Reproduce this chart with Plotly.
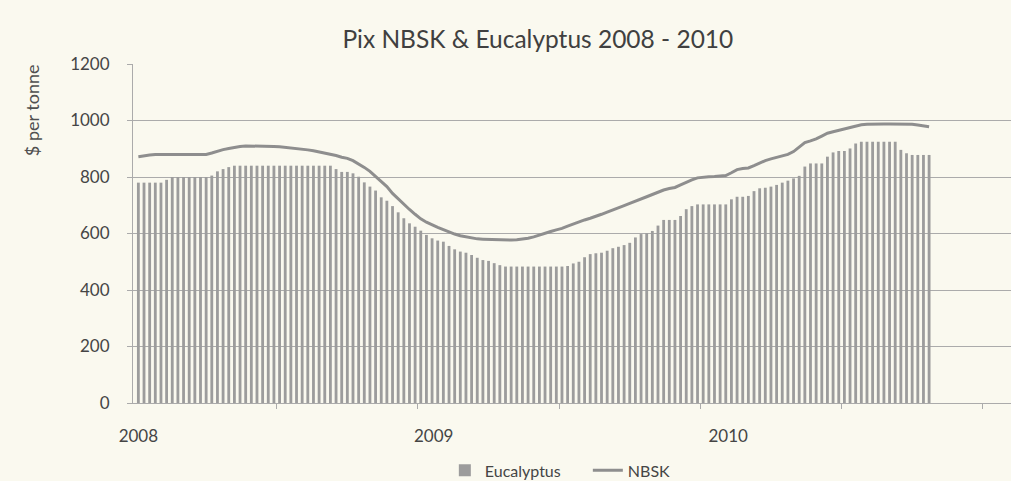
import datetime as dt
import plotly.graph_objects as go

# ---- data (weekly, starting first week of 2008) ----
start_date = dt.date(2008, 1, 1)

eucalyptus = (
    [780] * 5 + [790] + [800] * 7 + [805, 820, 828, 835] + [840] * 18 +
    [828, 818, 818, 813, 801, 781, 766, 752, 728, 716, 697, 675, 654, 636, 624,
     610, 595, 583, 575, 571, 556, 544, 536, 532, 524, 514, 506, 503, 495, 488] +
    [483] * 11 +
    [485, 494, 500, 516, 527, 530, 532, 539, 548, 553, 559, 567, 586, 598, 601,
     609, 628, 648, 648, 648, 662, 686, 697] +
    [703] * 6 +
    [721, 730, 730, 733, 750, 760, 762, 766, 772, 780, 787, 795, 804, 837] +
    [848] * 3 +
    [872, 887, 892, 892, 901, 919] +
    [925] * 7 +
    [896, 884] + [878] * 4
)

nbsk = (
    [872, 876, 878] + [880] * 10 +
    [885, 892, 897, 901, 905, 908, 910, 910, 908, 908, 910, 908, 907, 905, 904,
     901, 898, 896, 893, 889, 886, 881, 876, 870, 866, 858, 847, 834, 820, 801,
     785, 766, 742, 722, 702, 685, 668, 652, 640, 630, 622, 614, 605, 598, 592,
     588, 584, 581, 580, 579, 578, 578, 577, 577, 578, 580, 583, 588, 595, 601,
     607, 613, 618, 626, 634, 642, 648, 654, 660, 668, 676, 683, 691, 699, 707,
     714, 722, 730, 738, 746, 754, 759, 763, 772, 782, 790, 797, 800, 801, 802,
     803, 805, 815, 826, 830, 832, 840, 850, 858, 864, 869, 873, 880, 890, 905,
     922, 928, 935, 945, 955, 960, 965, 972, 977, 981, 985, 987] +
    [988] * 7 +
    [987, 984, 981, 978]
)

weeks = list(range(len(eucalyptus)))
year_labels = ["2008", "2009", "2010"]
year_pos = [(dt.date(int(y), 1, 1) - start_date).days / 7 for y in year_labels]
y_ticks = [0, 200, 400, 600, 800, 1000, 1200]
x_minor_ticks = [24.5, 49.5, 74.5, 99.5, 124.5, 149.5]

BG = "#faf9ef"
GRID = "#ababab"
TXT = "#454545"
FONT = "Lato, 'Open Sans', sans-serif"

fig = go.Figure()
fig.add_trace(go.Bar(
    x=weeks, y=eucalyptus, name="Eucalyptus",
    marker=dict(color="#9c9c9c", line=dict(width=0)),
))
fig.add_trace(go.Scatter(
    x=weeks[:len(nbsk)], y=nbsk, name="NBSK", mode="lines",
    line=dict(color="#8e8e8e", width=3),
))
# invisible trace to carry the tick-mark axis
fig.add_trace(go.Scatter(x=[None], y=[None], xaxis="x2", showlegend=False,
                         hoverinfo="skip"))

fig.update_layout(
    width=1011, height=481,
    margin=dict(l=133, r=0, t=64, b=78, autoexpand=False),
    paper_bgcolor=BG, plot_bgcolor=BG,
    bargap=0.5,
    font=dict(family=FONT, color=TXT),
    title=dict(text="Pix NBSK &amp; Eucalyptus 2008 - 2010",
               x=0.532, xanchor="center", y=0.918, yanchor="middle",
               xref="container", yref="container",
               font=dict(size=24.5, color="#404040", family=FONT)),
    xaxis=dict(range=[-0.95, 154.5], tickvals=year_pos, ticktext=year_labels,
               ticks="", showgrid=False, zeroline=False,
               showline=True, linecolor=GRID, linewidth=1,
               ticklabelstandoff=18, tickfont=dict(size=17, color=TXT)),
    xaxis2=dict(range=[-0.95, 154.5], overlaying="x", anchor="y",
                tickvals=x_minor_ticks, ticks="outside", ticklen=5,
                tickcolor=GRID, showticklabels=False, showgrid=False,
                zeroline=False, showline=False),
    yaxis=dict(range=[0, 1200], tickvals=y_ticks, showgrid=True,
               gridcolor=GRID, gridwidth=1, zeroline=False,
               showline=True, linecolor=GRID, linewidth=1,
               ticks="outside", ticklen=5, tickcolor=GRID,
               ticklabelstandoff=14, tickfont=dict(size=17, color=TXT)),
    legend=dict(orientation="h", x=0.44, xanchor="left",
                xref="container", yref="container", y=0.022,
                yanchor="middle", bgcolor="rgba(0,0,0,0)", entrywidth=98,
                font=dict(size=16, color=TXT), traceorder="normal"),
    annotations=[dict(text="$ per tonne", textangle=-90, xref="paper",
                      yref="paper", x=-0.115, y=0.864, showarrow=False,
                      xanchor="center", yanchor="middle",
                      font=dict(size=18, color="#505050", family=FONT))],
)

fig.write_html("out.html",
               config={"displayModeBar": False},
               post_script="document.body.style.margin='0';"
                           "document.body.style.overflow='hidden';")
